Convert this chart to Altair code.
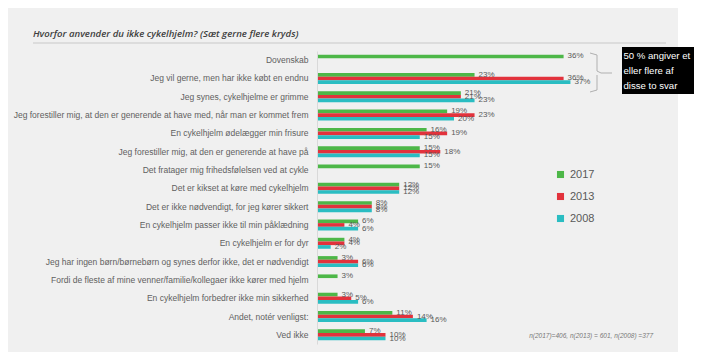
import altair as alt
import pandas as pd

categories = [
    "Dovenskab",
    "Jeg vil gerne, men har ikke købt en endnu",
    "Jeg synes, cykelhjelme er grimme",
    "Jeg forestiller mig, at den er generende at have med, når man er kommet frem",
    "En cykelhjelm ødelægger min frisure",
    "Jeg forestiller mig, at den er generende at have på",
    "Det fratager mig frihedsfølelsen ved at cykle",
    "Det er kikset at køre med cykelhjelm",
    "Det er ikke nødvendigt, for jeg kører sikkert",
    "En cykelhjelm passer ikke til min påklædning",
    "En cykelhjelm er for dyr",
    "Jeg har ingen børn/børnebørn og synes derfor ikke, det er nødvendigt",
    "Fordi de fleste af mine venner/familie/kollegaer ikke kører med hjelm",
    "En cykelhjelm forbedrer ikke min sikkerhed",
    "Andet, notér venligst:",
    "Ved ikke",
]
years = ["2017", "2013", "2008"]
v2017 = [36, 23, 21, 19, 16, 15, 15, 12, 8, 6, 4, 3, 3, 3, 11, 7]
v2013 = [None, 36, 21, 23, 19, 18, None, 12, 8, 4, 4, 6, None, 5, 14, 10]
v2008 = [None, 37, 23, 20, 15, 15, None, 12, 8, 6, 2, 6, None, 6, 16, 10]
colors = ["#4db748", "#e2323c", "#2abdc2"]

title_text = "Hvorfor anvender du ikke cykelhjelm? (Sæt gerne flere kryds)"
note_lines = ["50 % angiver et", "eller flere af", "disse to svar"]
footnote = "n(2017)=406, n(2013) = 601, n(2008) =377"

rows = []
for yr, vals in zip(years, [v2017, v2013, v2008]):
    for c, v in zip(categories, vals):
        if v is not None:
            rows.append({"cat": c, "year": yr, "value": v, "label": f"{v}%"})
df = pd.DataFrame(rows)

W, H = 342.5, 293
FONT = "Liberation Sans"
GRAY = "#595959"

y_enc = alt.Y("cat:N", sort=categories, title=None,
              scale=alt.Scale(paddingInner=0.4, paddingOuter=0.2),
              axis=alt.Axis(labelFontSize=8.5, labelColor="#606060", labelFont=FONT,
                            ticks=False, domainColor="#d9d9d9", labelPadding=9,
                            labelLimit=0, grid=False, zindex=1))
yoff = alt.YOffset("year:N", sort=years, scale=alt.Scale(paddingInner=0, paddingOuter=0))
x_enc = alt.X("value:Q", scale=alt.Scale(domain=[0, 50]), axis=None)

# backdrop
backdrop = alt.Chart(pd.DataFrame({"a": [0]})).mark_rect(color="#f0f0f0").encode(
    x=alt.value(-310), x2=alt.value(361), y=alt.value(-43), y2=alt.value(301))

title_rule = alt.Chart(pd.DataFrame({"a": [0]})).mark_rule(color="#c8c8c8", strokeWidth=1).encode(
    x=alt.value(-284), x2=alt.value(349), y=alt.value(-8))

title = alt.Chart(pd.DataFrame({"t": [title_text]})).mark_text(
    align="left", baseline="middle", font="Open Sans", fontSize=9.6, fontStyle="italic",
    fontWeight=600, color="#404040").encode(text="t:N", x=alt.value(-284), y=alt.value(-17))

bars = alt.Chart(df).mark_bar().encode(
    x=x_enc, y=y_enc, yOffset=yoff,
    color=alt.Color("year:N", sort=years,
                    scale=alt.Scale(domain=years, range=colors),
                    legend=alt.Legend(title=None, orient="none", legendX=238, legendY=118,
                                      symbolType="square", symbolSize=50, symbolStrokeWidth=0,
                                      labelFontSize=11, labelColor=GRAY, labelFont=FONT,
                                      rowPadding=10, symbolOpacity=1)))

labels = alt.Chart(df).mark_text(align="left", baseline="middle", dx=4, fontSize=8,
                                 font=FONT, color=GRAY).encode(
    x=x_enc, y=alt.Y("cat:N", sort=categories), yOffset=yoff, text="label:N")

# bracket segments
seg = pd.DataFrame({
    "x": [273, 280, 280, 284, 280, 280],
    "x2": [280, 280, 284, 295, 280, 273],
    "y": [2, 4, 20, 22, 24, 39],
    "y2": [4, 20, 22, 22, 39, 41],
})
bracket = alt.Chart(seg).mark_rule(color="#b0b0b0", strokeWidth=1).encode(
    x=alt.X("x:Q", scale=None), x2="x2:Q", y=alt.Y("y:Q", scale=None), y2="y2:Q")

box = alt.Chart(pd.DataFrame({"a": [0]})).mark_rect(color="black").encode(
    x=alt.value(305), x2=alt.value(377), y=alt.value(-4), y2=alt.value(43))

note_df = pd.DataFrame({"t": note_lines, "yy": [5, 20, 35]})
note = alt.Chart(note_df).mark_text(align="left", baseline="middle", fontSize=9.6,
                                    font="Liberation Sans",
                                    color="white").encode(
    text="t:N", x=alt.value(306.5), y=alt.Y("yy:Q", scale=None))

foot = alt.Chart(pd.DataFrame({"t": [footnote]})).mark_text(
    align="right", baseline="middle", fontSize=6.5, fontStyle="italic", font=FONT,
    color="#777777").encode(text="t:N", x=alt.value(336), y=alt.value(285))

chart = alt.layer(backdrop, title_rule, title, bars, labels, bracket, box, note, foot).properties(
    width=W, height=H,
    autosize=alt.AutoSizeParams(type="none"),
    padding={"left": 309, "top": 43, "right": 34.5, "bottom": 8},
    background="white",
).configure_view(stroke=None)

chart.save("out.html", embed_options={"renderer": "svg", "actions": False})
